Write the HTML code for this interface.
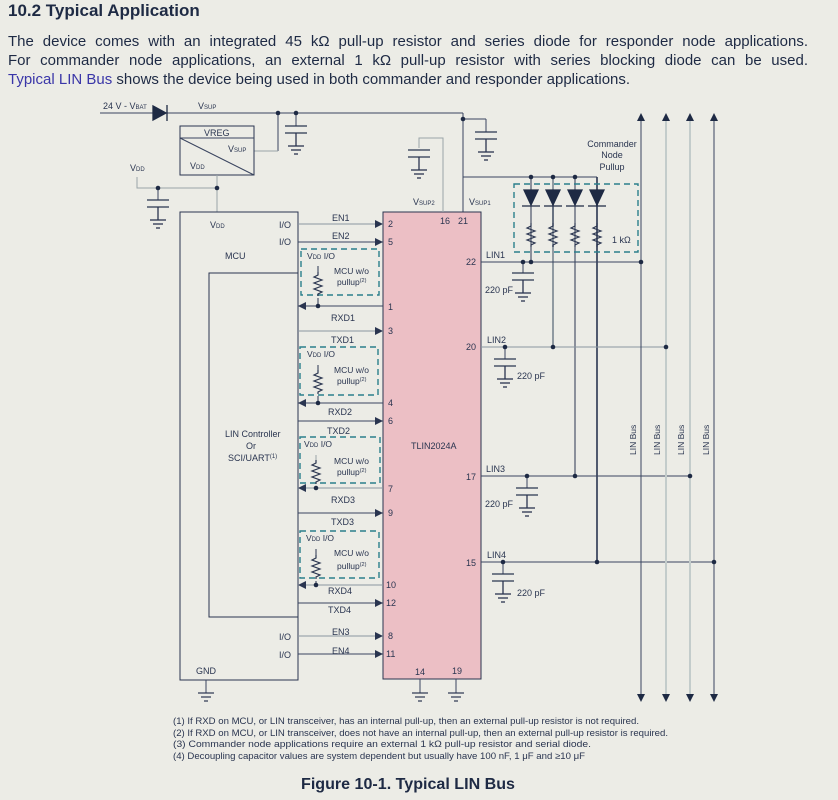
<!DOCTYPE html>
<html><head><meta charset="utf-8">
<style>
html,body{margin:0;padding:0;background:#ecece6;}
body{width:838px;height:800px;position:relative;overflow:hidden;font-family:"Liberation Sans",sans-serif;color:#1e2a44;}
h2{position:absolute;left:8px;top:1px;margin:0;font-size:17px;font-weight:bold;}
.p{position:absolute;left:8px;top:32px;width:800px;font-size:15px;line-height:19px;}
.p div{text-align:justify;text-align-last:justify;white-space:nowrap;}
.p div.l{text-align-last:left;}
.p a{color:#3a36a8;text-decoration:none;}
svg{position:absolute;left:0;top:0;}
</style></head><body>
<h2>10.2 Typical Application</h2>
<div class="p"><div style="white-space:normal">The device comes with an integrated 45 kΩ pull-up resistor and series diode for responder node applications.</div><div style="white-space:normal">For commander node applications, an external 1 kΩ pull-up resistor with series blocking diode can be used.</div><div class="l"><a>Typical LIN Bus</a> shows the device being used in both commander and responder applications.</div></div>
<svg width="838" height="800" viewBox="0 0 838 800" font-family="Liberation Sans, sans-serif" font-size="9" fill="#2a3550">
<defs>
<g id="cap" stroke="#2a3550" stroke-width="1.3" fill="none">
 <line x1="-11" y1="0" x2="11" y2="0"/><line x1="-11" y1="7" x2="11" y2="7"/>
 <line x1="0" y1="7" x2="0" y2="20"/><line x1="-8" y1="20" x2="8" y2="20"/><line x1="-5" y1="24" x2="5" y2="24"/><line x1="-2" y1="28" x2="2" y2="28"/>
</g>
<g id="gnd" stroke="#2a3550" stroke-width="1.2"><line x1="-8" y1="0" x2="8" y2="0"/><line x1="-5" y1="4" x2="5" y2="4"/><line x1="-2" y1="8" x2="2" y2="8"/></g>
<path id="res" d="M0 0 l0 3 l-4 2 l8 3 l-8 3 l8 3 l-8 3 l8 3 l-4 2 l0 2" fill="none" stroke="#2a3550" stroke-width="1.2"/>
<path id="ar" d="M0 0 l-8 -4 l0 8z" fill="#2a3550"/>
<path id="al" d="M0 0 l8 -4 l0 8z" fill="#2a3550"/>
</defs>
<g stroke="#3a4560" stroke-width="1" fill="none">
<line x1="100" y1="113" x2="463" y2="113"/>
<line x1="463" y1="113" x2="463" y2="212"/>
<line x1="463" y1="119" x2="486" y2="119"/><line x1="486" y1="119" x2="486" y2="132"/>
<line x1="278" y1="113" x2="278" y2="151"/><line x1="254" y1="151" x2="278" y2="151" stroke="#9aa5a8"/>
<line x1="296" y1="113" x2="296" y2="126"/>
<rect x="180" y="126" width="74" height="49" stroke="#2a3550"/>
<line x1="180" y1="138" x2="254" y2="138"/><line x1="180" y1="138" x2="254" y2="175"/>
<line x1="217" y1="175" x2="217" y2="212" stroke="#9aa5a8"/>
<polyline points="137,177 137,188 217,188" stroke="#9aa5a8"/>
<line x1="158" y1="188" x2="158" y2="200"/>
<rect x="180" y="212" width="118" height="468" stroke="#2a3550"/>
<rect x="209" y="273" width="89" height="344" stroke="#2a3550"/>
<line x1="206" y1="680" x2="206" y2="693"/>
<rect x="383" y="212" width="98" height="467" fill="#ecbfc5" stroke="#2a3550"/>
<polyline points="443,212 443,138 419,138 419,148" stroke="#9aa5a8"/>
<line x1="420" y1="679" x2="420" y2="693"/><line x1="456" y1="679" x2="456" y2="693"/>
<line x1="463" y1="177" x2="597" y2="177"/>
<line x1="531" y1="177" x2="531" y2="262" stroke="#2a3550"/>
<line x1="553" y1="177" x2="553" y2="347" stroke="#7a8590" stroke-width="1.6"/>
<line x1="575" y1="177" x2="575" y2="476" stroke="#2a3550"/>
<line x1="597" y1="177" x2="597" y2="562" stroke="#2a3550" stroke-width="1.6"/>
<line x1="481" y1="262" x2="641" y2="262"/>
<line x1="481" y1="347" x2="666" y2="347" stroke="#8a96a0"/>
<line x1="481" y1="476" x2="690" y2="476"/>
<line x1="481" y1="562" x2="714" y2="562"/>
<line x1="523" y1="262" x2="523" y2="273"/><line x1="505" y1="347" x2="505" y2="359"/>
<line x1="527" y1="476" x2="527" y2="488"/><line x1="503" y1="562" x2="503" y2="574"/>
<line x1="641" y1="118" x2="641" y2="697"/>
<line x1="666" y1="118" x2="666" y2="697" stroke="#c3cccb" stroke-width="2"/>
<line x1="690" y1="118" x2="690" y2="697" stroke="#c3cccb" stroke-width="2"/>
<line x1="714" y1="118" x2="714" y2="697"/>
<g stroke="#2b7f8c" stroke-width="1.4" stroke-dasharray="6,4">
<rect x="514" y="184" width="124" height="68"/>
<rect x="301" y="249" width="78" height="46"/>
<rect x="300" y="347" width="78" height="48"/>
<rect x="300" y="437" width="80" height="46"/>
<rect x="300" y="531" width="79" height="47"/>
</g>
<line x1="298" y1="224" x2="383" y2="224" stroke="#8a96a0"/>
<line x1="298" y1="242" x2="383" y2="242"/>
<line x1="298" y1="306" x2="383" y2="306"/>
<line x1="298" y1="331" x2="383" y2="331" stroke="#8a96a0"/>
<line x1="298" y1="403" x2="383" y2="403"/>
<line x1="298" y1="421" x2="383" y2="421"/>
<line x1="298" y1="488" x2="383" y2="488" stroke="#8a96a0"/>
<line x1="298" y1="513" x2="383" y2="513"/>
<line x1="298" y1="585" x2="383" y2="585" stroke="#8a96a0"/>
<line x1="298" y1="603" x2="383" y2="603"/>
<line x1="298" y1="636" x2="383" y2="636" stroke="#8a96a0"/>
<line x1="298" y1="654" x2="383" y2="654"/>
<line x1="318" y1="266" x2="318" y2="272" stroke="#2a3550"/>
<line x1="318" y1="365" x2="318" y2="370" stroke="#2a3550"/>
<line x1="316" y1="455" x2="316" y2="460" stroke="#9aa5a8"/>
<line x1="316" y1="549" x2="316" y2="555" stroke="#2a3550"/>
</g>
<use href="#res" x="318" y="272"/><line x1="318" y1="298" x2="318" y2="306" stroke="#2a3550"/>
<use href="#res" x="318" y="370"/><line x1="318" y1="396" x2="318" y2="403" stroke="#2a3550"/>
<use href="#res" x="316" y="460"/><line x1="316" y1="486" x2="316" y2="488" stroke="#2a3550"/>
<use href="#res" x="316" y="555"/><line x1="316" y1="581" x2="316" y2="585" stroke="#2a3550"/>
<use href="#res" x="531" y="223"/><use href="#res" x="553" y="223"/><use href="#res" x="575" y="223"/><use href="#res" x="597" y="223"/>
<g fill="#1e2a44" stroke="#1e2a44" stroke-width="1.3">
<path d="M153 106 L166 113 L153 120Z"/><line x1="167" y1="105" x2="167" y2="121"/>
<path d="M524 190 L538 190 L531 205Z"/><line x1="522" y1="206" x2="540" y2="206"/>
<path d="M546 190 L560 190 L553 205Z"/><line x1="544" y1="206" x2="562" y2="206"/>
<path d="M568 190 L582 190 L575 205Z"/><line x1="566" y1="206" x2="584" y2="206"/>
<path d="M590 190 L604 190 L597 205Z"/><line x1="588" y1="206" x2="606" y2="206"/>
</g>
<line x1="531" y1="206" x2="531" y2="223" stroke="#2a3550"/><line x1="553" y1="206" x2="553" y2="223" stroke="#2a3550"/><line x1="575" y1="206" x2="575" y2="223" stroke="#2a3550"/><line x1="597" y1="206" x2="597" y2="223" stroke="#2a3550"/>
<use href="#cap" x="296" y="126"/><use href="#cap" x="158" y="200"/><use href="#cap" x="419" y="150"/><use href="#cap" x="486" y="132"/>
<use href="#cap" x="523" y="273"/><use href="#cap" x="505" y="359"/><use href="#cap" x="527" y="488"/><use href="#cap" x="503" y="574"/>
<use href="#gnd" x="206" y="693"/><use href="#gnd" x="420" y="693"/><use href="#gnd" x="456" y="693"/>
<g fill="#1e2a44">
<circle cx="278" cy="113" r="2.3"/><circle cx="296" cy="113" r="2.3"/><circle cx="463" cy="119" r="2.3"/>
<circle cx="158" cy="188" r="2.3"/><circle cx="217" cy="188" r="2.3"/>
<circle cx="531" cy="177" r="2.3"/><circle cx="553" cy="177" r="2.3"/><circle cx="575" cy="177" r="2.3"/>
<circle cx="523" cy="262" r="2.3"/><circle cx="531" cy="262" r="2.3"/><circle cx="641" cy="262" r="2.3"/>
<circle cx="505" cy="347" r="2.3"/><circle cx="553" cy="347" r="2.3"/><circle cx="666" cy="347" r="2.3"/>
<circle cx="527" cy="476" r="2.3"/><circle cx="575" cy="476" r="2.3"/><circle cx="690" cy="476" r="2.3"/>
<circle cx="503" cy="562" r="2.3"/><circle cx="597" cy="562" r="2.3"/><circle cx="714" cy="562" r="2.3"/>
<circle cx="318" cy="306" r="2.3"/><circle cx="318" cy="403" r="2.3"/><circle cx="316" cy="488" r="2.3"/><circle cx="316" cy="585" r="2.3"/>
</g>
<use href="#ar" x="383" y="224"/><use href="#ar" x="383" y="242"/><use href="#ar" x="383" y="331"/><use href="#ar" x="383" y="421"/>
<use href="#ar" x="383" y="513"/><use href="#ar" x="383" y="603"/><use href="#ar" x="383" y="636"/><use href="#ar" x="383" y="654"/>
<use href="#al" x="298" y="306"/><use href="#al" x="298" y="403"/><use href="#al" x="298" y="488"/><use href="#al" x="298" y="585"/>
<g fill="#1e2a44">
<path d="M641 113 l-4 8 l8 0z"/><path d="M666 113 l-4 8 l8 0z"/><path d="M690 113 l-4 8 l8 0z"/><path d="M714 113 l-4 8 l8 0z"/>
<path d="M641 702 l-4 -8 l8 0z"/><path d="M666 702 l-4 -8 l8 0z"/><path d="M690 702 l-4 -8 l8 0z"/><path d="M714 702 l-4 -8 l8 0z"/>
</g>
<text x="103" y="109">24 V - V<tspan font-size="6">BAT</tspan></text>
<text x="198" y="109">V<tspan font-size="6">SUP</tspan></text>
<text x="204" y="136">VREG</text>
<text x="228" y="152">V<tspan font-size="6">SUP</tspan></text>
<text x="190" y="169">V<tspan font-size="6">DD</tspan></text>
<text x="130" y="171">V<tspan font-size="6">DD</tspan></text>
<text x="210" y="228">V<tspan font-size="6">DD</tspan></text>
<text x="279" y="228">I/O</text><text x="279" y="245">I/O</text>
<text x="225" y="259">MCU</text>
<text x="225" y="437">LIN Controller</text><text x="246" y="449">Or</text><text x="228" y="461">SCI/UART<tspan font-size="6" dy="-3">(1)</tspan></text>
<text x="279" y="640">I/O</text><text x="279" y="658">I/O</text>
<text x="196" y="674">GND</text>
<text x="332" y="221">EN1</text><text x="332" y="239">EN2</text>
<text x="331" y="321">RXD1</text><text x="331" y="343">TXD1</text>
<text x="328" y="415">RXD2</text><text x="327" y="434">TXD2</text>
<text x="331" y="503">RXD3</text><text x="331" y="525">TXD3</text>
<text x="328" y="594">RXD4</text><text x="328" y="613">TXD4</text>
<text x="332" y="635">EN3</text><text x="332" y="654">EN4</text>
<g font-size="8.5">
<text x="307" y="259">V<tspan font-size="6">DD</tspan> I/O</text><text x="334" y="274">MCU w/o</text><text x="337" y="285">pullup<tspan font-size="5.5" dy="-3">(2)</tspan></text>
<text x="307" y="357">V<tspan font-size="6">DD</tspan> I/O</text><text x="334" y="373">MCU w/o</text><text x="337" y="384">pullup<tspan font-size="5.5" dy="-3">(2)</tspan></text>
<text x="304" y="447">V<tspan font-size="6">DD</tspan> I/O</text><text x="334" y="464">MCU w/o</text><text x="337" y="475">pullup<tspan font-size="5.5" dy="-3">(2)</tspan></text>
<text x="306" y="541">V<tspan font-size="6">DD</tspan> I/O</text><text x="334" y="556">MCU w/o</text><text x="337" y="569">pullup<tspan font-size="5.5" dy="-3">(2)</tspan></text>
</g>
<text x="388" y="227">2</text><text x="388" y="245">5</text><text x="388" y="310">1</text><text x="388" y="334">3</text>
<text x="388" y="406">4</text><text x="388" y="424">6</text><text x="388" y="492">7</text><text x="388" y="516">9</text>
<text x="386" y="588">10</text><text x="386" y="606">12</text><text x="388" y="639">8</text><text x="386" y="657">11</text>
<text x="440" y="224">16</text><text x="458" y="224">21</text>
<text x="415" y="675">14</text><text x="452" y="674">19</text>
<text x="466" y="265">22</text><text x="466" y="350">20</text><text x="466" y="480">17</text><text x="466" y="566">15</text>
<text x="411" y="449">TLIN2024A</text>
<text x="413" y="205">V<tspan font-size="6">SUP2</tspan></text><text x="469" y="205">V<tspan font-size="6">SUP1</tspan></text>
<text x="486" y="258">LIN1</text><text x="487" y="343">LIN2</text><text x="486" y="472">LIN3</text><text x="487" y="558">LIN4</text>
<text x="485" y="293">220 pF</text><text x="517" y="379">220 pF</text><text x="485" y="507">220 pF</text><text x="517" y="596">220 pF</text>
<text x="612" y="243">1 kΩ</text>
<text x="612" y="147" text-anchor="middle">Commander</text><text x="612" y="158" text-anchor="middle">Node</text><text x="612" y="170" text-anchor="middle">Pullup</text>
<g font-size="8.5">
<text transform="translate(636,455) rotate(-90)">LIN Bus</text><text transform="translate(660,455) rotate(-90)">LIN Bus</text>
<text transform="translate(684,455) rotate(-90)">LIN Bus</text><text transform="translate(709,455) rotate(-90)">LIN Bus</text>
</g>
<g font-size="9.2">
<text x="173" y="724" textLength="466" lengthAdjust="spacingAndGlyphs">(1) If RXD on MCU, or LIN transceiver, has an internal pull-up, then an external pull-up resistor is not required.</text>
<text x="173" y="736" textLength="495" lengthAdjust="spacingAndGlyphs">(2) If RXD on MCU, or LIN transceiver, does not have an internal pull-up, then an external pull-up resistor is required.</text>
<text x="173" y="747" textLength="418" lengthAdjust="spacingAndGlyphs">(3) Commander node applications require an external 1 kΩ  pull-up resistor and serial diode.</text>
<text x="173" y="759" textLength="412" lengthAdjust="spacingAndGlyphs">(4) Decoupling capacitor values are system dependent but usually have 100 nF, 1 μF and ≥10 μF</text>
</g>
<text x="301" y="789" font-size="15.5" font-weight="bold" fill="#1e2a44" textLength="214" lengthAdjust="spacingAndGlyphs">Figure 10-1. Typical LIN Bus</text>
</svg>
</body></html>
